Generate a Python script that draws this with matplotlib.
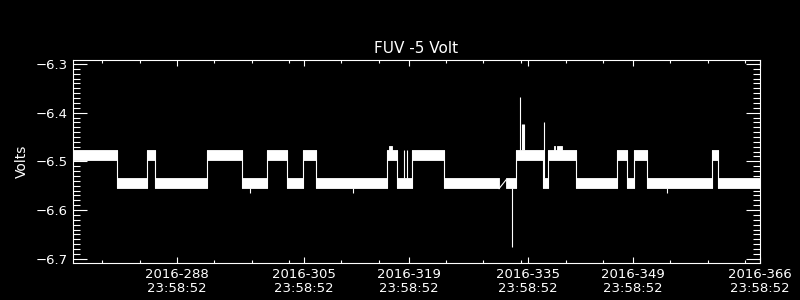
import numpy as np
import matplotlib.pyplot as plt
from matplotlib.ticker import MultipleLocator, FixedLocator

# time axis: fractional day of year 2016
# state 1 = upper level, 0 = lower level
seg_start = [275.08, 280.90, 285.03, 286.10, 293.05, 297.66, 301.08, 303.76,
             305.82, 307.60, 317.14, 318.39, 320.40, 324.72, 333.02, 334.32,
             338.01, 338.68, 342.32, 347.91, 349.25, 350.14, 351.92, 360.54,
             361.42]
seg_end = [280.90, 285.03, 286.10, 293.05, 297.66, 301.08, 303.76, 305.82,
           307.60, 317.14, 318.39, 320.40, 324.72, 332.08, 334.32, 338.01,
           338.68, 342.32, 347.91, 349.25, 350.14, 351.92, 360.54, 361.42,
           367.00]
seg_state = [1, 0, 1, 0, 1, 0, 1, 0, 1, 0, 1, 0, 1, 0, 0, 1, 0, 1, 0, 1, 0, 1,
             0, 1, 0]

# noise band of each level (volts)
level_top = [-6.534, -6.477]
level_bot = [-6.555, -6.497]

# short bumps above the upper band
bump_start = [317.36, 339.40, 339.90]
bump_end = [317.76, 339.55, 340.45]
bump_val = [-6.468, -6.468, -6.468]

# single-sample spikes
spike_t = [298.77, 312.59, 354.52, 319.41, 319.77, 333.86, 334.93,
           335.22, 335.32, 335.42, 338.14]
spike_v = [-6.565, -6.565, -6.565, -6.477, -6.477, -6.675, -6.368,
           -6.423, -6.423, -6.423, -6.420]

# data gap joined by a straight line
gap_t = [332.08, 333.02]
gap_v = [-6.556, -6.538]

tick_days = [288, 305, 319, 335, 349, 366]
tick_clock = '23:58:52'

fg = 'white'
fig = plt.figure(figsize=(8, 3), dpi=100, facecolor='black')
ax = fig.add_axes([0.0913, 0.1243, 0.8587, 0.6773], facecolor='black')

for s, e, st in zip(seg_start, seg_end, seg_state):
    ax.fill_between([s, e], [level_bot[st]] * 2, [level_top[st]] * 2,
                    color=fg, lw=0.6, edgecolor=fg)

# vertical jumps between levels
for i in range(len(seg_start) - 1):
    if abs(seg_end[i] - seg_start[i + 1]) < 1e-6:
        ax.vlines(seg_end[i], level_bot[0], level_top[1], color=fg, lw=0.8)

for s, e, v in zip(bump_start, bump_end, bump_val):
    ax.fill_between([s, e], [level_top[1]] * 2, [v] * 2, color=fg, lw=0.6,
                    edgecolor=fg)

for t, v in zip(spike_t, spike_v):
    i = np.searchsorted(seg_end, t)
    st = seg_state[i]
    base = level_top[st] if v > level_top[st] else level_bot[st]
    ax.vlines(t, base, v, color=fg, lw=0.8)

ax.plot(gap_t, gap_v, color=fg, lw=0.8)

# axes
hh, mm, ss = [int(p) for p in tick_clock.split(':')]
frac = (hh * 3600 + mm * 60 + ss) / 86400.0
majors = [d + frac for d in tick_days]
ax.set_xlim(275.084, majors[-1])
ax.set_ylim(-6.708, -6.291)

minors = []
t = majors[0] - 5
while t > 275.084:
    minors.append(t)
    t -= 5
for a, b in zip(majors[:-1], majors[1:]):
    t = a + 5
    while t < b - 0.5:
        minors.append(t)
        t += 5

ax.xaxis.set_major_locator(FixedLocator(majors))
ax.xaxis.set_minor_locator(FixedLocator(minors))
ax.set_xticklabels([f'2016-{d:03d}\n{tick_clock}' for d in tick_days],
                   linespacing=1.05)
ax.set_yticks([-6.7, -6.6, -6.5, -6.4, -6.3])
ax.yaxis.set_minor_locator(MultipleLocator(0.01))

ax.tick_params(axis='both', which='both', direction='in', colors=fg,
               labelsize=9.5, width=0.8, top=True, right=True)
ax.tick_params(axis='x', which='major', length=4.3, pad=4)
ax.tick_params(axis='x', which='minor', length=2.2)
ax.tick_params(axis='y', which='major', length=10, pad=4)
ax.tick_params(axis='y', which='minor', length=5)
for sp in ax.spines.values():
    sp.set_color(fg)
    sp.set_linewidth(0.8)

ax.set_title('FUV -5 Volt', color=fg, fontsize=11, pad=5)
ax.set_ylabel('Volts', color=fg, fontsize=10)
ax.yaxis.set_label_coords(-0.064, 0.5)

fig.savefig('out.png', facecolor='black')
